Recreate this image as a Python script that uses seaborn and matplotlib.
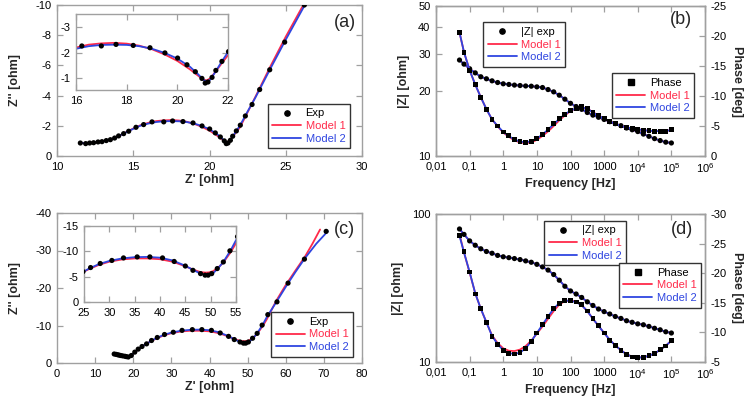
import matplotlib
matplotlib.use("Agg")
import matplotlib.pyplot as plt
import seaborn as sns
from matplotlib.lines import Line2D
from matplotlib.ticker import FixedLocator, NullLocator

sns.set_theme(style="ticks")
plt.rcParams["font.family"] = ["Liberation Sans", "DejaVu Sans"]
plt.rcParams["mathtext.default"] = "regular"
plt.rcParams["axes.unicode_minus"] = False

RED = "#ff2a4a"
BLUE = "#2f45e0"
SPINE = "#a0a0a0"

# ---------------- panel (a): Nyquist, sample 1 ----------------
za_re = [11.53, 11.88, 12.14, 12.40, 12.69, 12.95, 13.23, 13.50, 13.78, 14.04, 14.37, 14.70,
         15.18, 15.68, 16.23, 17.0, 17.58, 18.26, 18.92, 19.51, 20.01, 20.38, 20.71, 20.97,
         21.10, 21.21, 21.37, 21.52, 21.76, 22.02, 22.35, 22.79, 23.29, 23.95, 24.93, 26.22]
za_im = [-0.86, -0.82, -0.86, -0.88, -0.93, -0.95, -1.02, -1.08, -1.19, -1.33, -1.48, -1.64,
         -1.90, -2.08, -2.26, -2.26, -2.32, -2.28, -2.19, -1.99, -1.79, -1.53, -1.26, -1.0,
         -0.82, -0.86, -1.04, -1.31, -1.66, -2.04, -2.65, -3.41, -4.40, -5.71, -7.54, -10.0]
za_m1_re = [11.5, 12.0, 12.5, 13.0, 13.5, 14.0, 14.5, 15.0, 15.5, 16.0, 16.5, 17.0, 17.5, 18.0,
            18.5, 19.0, 19.5, 20.0, 20.5, 20.8, 21.0, 21.15, 21.3, 21.5, 21.75, 22.0, 22.5,
            23.0, 24.0, 25.0, 26.15]
za_m1_im = [-0.85, -0.85, -0.9, -0.97, -1.08, -1.3, -1.56, -1.82, -2.05, -2.2, -2.31, -2.36,
            -2.38, -2.35, -2.27, -2.13, -1.93, -1.68, -1.35, -1.12, -0.97, -0.92, -1.0, -1.25,
            -1.58, -1.9, -2.9, -3.9, -5.95, -7.9, -10.0]
za_m2_re = [11.5, 12.0, 12.5, 13.0, 13.5, 14.0, 14.5, 15.0, 15.5, 16.0, 16.5, 17.0, 17.5, 18.0,
            18.5, 19.0, 19.5, 20.0, 20.5, 20.8, 21.0, 21.15, 21.3, 21.5, 21.75, 22.0, 22.5,
            23.0, 24.0, 25.0, 26.25]
za_m2_im = [-0.85, -0.85, -0.9, -0.97, -1.08, -1.3, -1.55, -1.8, -2.02, -2.15, -2.25, -2.3,
            -2.31, -2.3, -2.25, -2.15, -1.99, -1.77, -1.45, -1.18, -0.98, -0.86, -0.95, -1.25,
            -1.65, -2.02, -2.95, -3.85, -5.8, -7.7, -10.0]

# ---------------- panel (c): Nyquist, sample 2 ----------------
zc_re = [15.0, 15.5, 15.9, 16.3, 16.7, 17.2, 17.8, 18.2, 18.7, 19.5, 20.4, 21.3, 22.3, 23.5,
         24.8, 26.3, 28.2, 30.5, 32.8, 35.5, 38.0, 40.5, 42.8, 45.0, 46.5, 48.0, 48.9, 49.5,
         50.2, 51.3, 52.5, 53.8, 55.3, 57.7, 60.6, 64.9, 70.6]
zc_im = [-2.4, -2.3, -2.2, -2.1, -2.0, -1.9, -1.8, -1.7, -1.6, -2.0, -2.9, -3.7, -4.4, -5.1,
         -6.0, -6.8, -7.6, -8.2, -8.7, -8.9, -8.9, -8.7, -8.0, -7.1, -6.25, -5.6, -5.3, -5.3,
         -5.6, -6.6, -7.9, -10.1, -12.9, -16.3, -21.3, -27.7, -35.1]
zc_m1_re = [19.0, 20.0, 21.0, 22.0, 23.0, 24.0, 25.0, 26.0, 28.0, 30.0, 32.5, 35.0, 37.5, 40.0,
            42.5, 45.0, 46.5, 48.0, 49.0, 49.7, 50.5, 51.5, 52.5, 54.0, 55.0, 57.5, 60.0, 62.5,
            65.0, 67.0, 69.0]
zc_m1_im = [-1.75, -2.5, -3.4, -4.2, -4.85, -5.45, -6.0, -6.5, -7.35, -7.95, -8.4, -8.6, -8.6,
            -8.45, -7.95, -7.05, -6.4, -5.9, -5.8, -5.85, -6.1, -6.8, -7.8, -9.9, -11.6, -16.6,
            -20.8, -24.6, -28.3, -31.8, -35.6]
zc_m2_re = [19.0, 20.0, 21.0, 22.0, 23.0, 24.0, 25.0, 26.0, 28.0, 30.0, 32.5, 35.0, 37.5, 40.0,
            42.5, 45.0, 46.5, 48.0, 49.0, 49.7, 50.5, 51.5, 52.5, 54.0, 55.0, 57.5, 60.0, 62.5,
            65.0, 68.0, 71.0]
zc_m2_im = [-1.75, -2.5, -3.4, -4.2, -4.85, -5.45, -6.05, -6.6, -7.5, -8.1, -8.6, -8.85, -8.9,
            -8.75, -8.2, -7.15, -6.35, -5.6, -5.3, -5.3, -5.7, -6.7, -7.9, -10.3, -12.2, -16.2,
            -20.3, -24.2, -27.9, -31.8, -35.1]

# ---------------- Bode panels (b) and (d) ----------------
freq = [0.05, 0.0681, 0.1, 0.147, 0.215, 0.316, 0.464, 0.681, 1.0, 1.47, 2.15, 3.16, 4.64,
        6.81, 10, 14.7, 21.5, 31.6, 46.4, 68.1, 100, 147, 215, 316, 464, 681, 1000, 1470,
        2150, 3160, 4640, 6810, 1e4, 14700, 21500, 31600, 46400, 68100, 1e5]

mag_b = [28.0, 26.8, 25.5, 24.4, 23.4, 22.9, 22.4, 22.0, 21.7, 21.55, 21.4, 21.3, 21.2, 21.15,
         21.0, 20.85, 20.4, 19.9, 19.2, 18.4, 17.6, 17.0, 16.5, 15.95, 15.5, 15.15, 14.8, 14.45,
         14.15, 13.85, 13.5, 13.25, 13.0, 12.65, 12.35, 12.05, 11.8, 11.6, 11.5]
ph_b = [-20.6, -17.3, -14.3, -11.9, -9.8, -7.8, -6.1, -5.0, -4.0, -3.35, -2.75, -2.4, -2.3,
        -2.4, -2.9, -3.6, -4.4, -5.35, -6.25, -6.9, -7.6, -7.9, -8.2, -7.85, -7.2, -6.7, -6.25,
        -5.75, -5.35, -5.0, -4.75, -4.6, -4.45, -4.3, -4.2, -4.1, -4.1, -4.1, -4.4]
ph_b_m1 = [-20.6, -17.3, -14.3, -11.9, -9.8, -7.8, -6.1, -4.95, -3.9, -3.2, -2.6, -2.25, -2.15,
           -2.25, -2.7, -3.35, -4.1, -5.0, -5.95, -6.75, -7.5, -7.95, -8.15, -7.9, -7.3, -6.75,
           -6.25, -5.75, -5.35, -5.0, -4.75, -4.6, -4.45, -4.3, -4.2, -4.15, -4.15, -4.2, -4.3]
ph_b_m2 = [-20.6, -17.3, -14.3, -11.9, -9.8, -7.8, -6.1, -5.0, -4.0, -3.3, -2.75, -2.4, -2.3,
           -2.45, -2.9, -3.6, -4.4, -5.3, -6.2, -6.95, -7.55, -7.95, -8.1, -7.9, -7.25, -6.7,
           -6.25, -5.75, -5.35, -5.0, -4.75, -4.6, -4.45, -4.3, -4.2, -4.15, -4.15, -4.2, -4.3]

mag_d = [79.2, 72.8, 65.8, 61.5, 58.2, 55.8, 54.3, 52.5, 51.4, 50.7, 50.0, 49.2, 48.2, 47.2,
         45.7, 43.9, 41.8, 39.0, 35.7, 32.5, 30.2, 28.8, 27.3, 25.5, 24.1, 22.8, 21.9, 21.1,
         20.3, 19.7, 19.0, 18.55, 18.1, 17.85, 17.4, 16.9, 16.5, 16.0, 15.7]
ph_d = [-26.3, -23.6, -20.2, -16.5, -14.1, -11.7, -9.3, -8.0, -7.0, -6.5, -6.35, -6.6, -7.3,
        -8.5, -9.9, -11.3, -12.7, -14.0, -14.95, -15.35, -15.35, -15.15, -14.7, -13.6, -12.3,
        -11.1, -9.9, -8.7, -7.8, -7.0, -6.2, -5.85, -5.7, -5.75, -6.05, -6.45, -7.1, -7.7, -8.6]
ph_d_m1 = [-26.6, -23.5, -20.1, -16.6, -14.0, -11.7, -9.5, -8.2, -7.3, -6.9, -6.85, -7.1, -7.7,
           -8.6, -9.8, -11.0, -12.3, -13.6, -14.7, -15.3, -15.4, -15.2, -14.6, -13.6, -12.3,
           -11.1, -9.9, -8.75, -7.8, -7.0, -6.3, -5.9, -5.75, -5.8, -6.05, -6.45, -7.05, -7.75,
           -8.6]
ph_d_m2 = [-26.3, -23.5, -20.2, -16.6, -14.0, -11.7, -9.4, -8.0, -7.0, -6.5, -6.35, -6.6, -7.3,
           -8.5, -9.9, -11.3, -12.7, -14.0, -14.95, -15.35, -15.35, -15.1, -14.6, -13.6, -12.3,
           -11.1, -9.9, -8.75, -7.8, -7.0, -6.3, -5.9, -5.75, -5.8, -6.05, -6.45, -7.05, -7.75,
           -8.6]
# fitted |Z| of both models lies on the measured points
mag_b_fit = mag_b
mag_d_fit = mag_d

freq_ticks = [0.01, 0.1, 1, 10, 100, 1000, 1e4, 1e5, 1e6]
freq_labels = ["0,01", "0,1", "1", "10", "100", "1000", "$10^4$", "$10^5$", "$10^6$"]


def rect(l, t, r, b):
    return [l / 756, 1 - b / 400, (r - l) / 756, (b - t) / 400]


def style(ax, right=True, top=True):
    for s in ax.spines.values():
        s.set_color(SPINE)
        s.set_linewidth(1.0)
    ax.tick_params(direction="in", color=SPINE, length=4, width=0.9, labelsize=8,
                   top=top, right=right, pad=4, labelcolor="black")


def lines(ax, x, y, color):
    sns.lineplot(x=x, y=y, ax=ax, color=color, lw=1.3, sort=False, estimator=None)


def dots(ax, x, y, marker="o", size=14):
    sns.scatterplot(x=x, y=y, ax=ax, color="black", marker=marker, s=size,
                    edgecolor="none", zorder=4)


def legend(ax, first, mk, loc, anchor):
    h = [Line2D([], [], ls="none", marker=mk, color="black", ms=3.8),
         Line2D([], [], color=RED, lw=1.3), Line2D([], [], color=BLUE, lw=1.3)]
    lg = ax.legend(h, [first, "Model 1", "Model 2"], loc=loc, bbox_to_anchor=anchor,
                   borderaxespad=0, fontsize=8, handlelength=2.6, fancybox=False,
                   framealpha=1, edgecolor="#333333", labelcolor=["black", RED, BLUE],
                   borderpad=0.4, labelspacing=0.25, handletextpad=0.4)
    lg.get_frame().set_linewidth(1.0)
    lg.set_zorder(10)


fig = plt.figure(figsize=(7.56, 4.0), dpi=100)

# (a)
ax = fig.add_axes(rect(57, 5, 362, 156))
lines(ax, za_m1_re, za_m1_im, RED)
lines(ax, za_m2_re, za_m2_im, BLUE)
dots(ax, za_re, za_im)
ax.set_xlim(10, 30)
ax.set_ylim(0, -10)
ax.set_xticks([10, 15, 20, 25, 30])
ax.set_yticks([0, -2, -4, -6, -8, -10])
style(ax)
ax.set_xlabel("Z' [ohm]", fontsize=9, fontweight="bold", labelpad=2)
ax.set_ylabel("Z'' [ohm]", fontsize=9, fontweight="bold", labelpad=10)
ax.text(0.944, 0.887, "(a)", transform=ax.transAxes, fontsize=13, ha="center", va="center")
legend(ax, "Exp", "o", "lower right", (0.96, 0.05))

axi = fig.add_axes(rect(76, 14, 228, 90))
lines(axi, za_m1_re, za_m1_im, RED)
lines(axi, za_m2_re, za_m2_im, BLUE)
dots(axi, za_re, za_im)
axi.set_xlim(16, 22)
axi.set_ylim(-0.55, -3.5)
axi.set_xticks([16, 18, 20, 22])
axi.set_yticks([-1, -2, -3])
style(axi)

# (c)
ax = fig.add_axes(rect(57, 213, 362, 363))
lines(ax, zc_m1_re, zc_m1_im, RED)
lines(ax, zc_m2_re, zc_m2_im, BLUE)
dots(ax, zc_re, zc_im)
ax.set_xlim(0, 80)
ax.set_ylim(0, -40)
ax.set_xticks(range(0, 81, 10))
ax.set_yticks([0, -10, -20, -30, -40])
style(ax)
ax.set_xlabel("Z' [ohm]", fontsize=9, fontweight="bold", labelpad=2)
ax.set_ylabel("Z'' [ohm]", fontsize=9, fontweight="bold", labelpad=10)
ax.text(0.942, 0.889, "(c)", transform=ax.transAxes, fontsize=13, ha="center", va="center")
legend(ax, "Exp", "o", "lower right", (0.971, 0.042))

axi = fig.add_axes(rect(84, 226, 236, 302))
lines(axi, zc_m1_re, zc_m1_im, RED)
lines(axi, zc_m2_re, zc_m2_im, BLUE)
dots(axi, zc_re, zc_im)
axi.set_xlim(25, 55)
axi.set_ylim(0, -15)
axi.set_xticks(range(25, 56, 5))
axi.set_yticks([0, -5, -10, -15])
style(axi)


def bode(box, mag, mag_fit, ph, ph1, ph2, ylim, yticks, plim, pticks, tag, tagpos, lg1, lg2):
    ax = fig.add_axes(rect(*box))
    ax2 = ax.twinx()
    ax.set_xscale("log")
    ax.set_yscale("log")
    lines(ax, freq, mag_fit, RED)
    lines(ax, freq, mag_fit, BLUE)
    dots(ax, freq, mag)
    lines(ax2, freq, ph1, RED)
    lines(ax2, freq, ph2, BLUE)
    dots(ax2, freq, ph, marker="s", size=12)
    ax.set_xlim(0.01, 1e6)
    ax.xaxis.set_major_locator(FixedLocator(freq_ticks))
    ax.set_xticklabels(freq_labels)
    ax.xaxis.set_minor_locator(NullLocator())
    ax.set_ylim(*ylim)
    ax.yaxis.set_major_locator(FixedLocator(yticks))
    ax.set_yticklabels([str(v) for v in yticks])
    ax.yaxis.set_minor_locator(NullLocator())
    ax2.set_ylim(*plim)
    ax2.set_yticks(pticks)
    style(ax, right=False)
    style(ax2, right=True, top=False)
    ax2.tick_params(left=False, labelleft=False)
    ax.set_xlabel("Frequency [Hz]", fontsize=9, fontweight="bold", labelpad=2)
    ax.set_ylabel("|Z| [ohm]", fontsize=9, fontweight="bold", labelpad=6)
    ax2.set_ylabel("Phase [deg]", fontsize=9, fontweight="bold", rotation=270, labelpad=12)
    ax2.text(tagpos[0], tagpos[1], tag, transform=ax2.transAxes, fontsize=13,
             ha="center", va="center")
    legend(ax2, "|Z| exp", "o", "upper left", lg1)
    first = ax2.get_legend()
    ax2.add_artist(first)
    legend(ax2, "Phase", "s", "upper right", lg2)


bode((436, 6, 705, 156), mag_b, mag_b_fit, ph_b, ph_b_m1, ph_b_m2, (10, 50),
     [10, 20, 30, 40, 50], (0, -25), [0, -5, -10, -15, -20, -25], "(b)", (0.911, 0.911),
     (0.176, 0.891), (0.959, 0.551))
bode((436, 214, 705, 362), mag_d, mag_d_fit, ph_d, ph_d_m1, ph_d_m2, (10, 100),
     [10, 100], (-5, -30), [-5, -10, -15, -20, -25, -30], "(d)", (0.915, 0.898),
     (0.402, 0.953), (0.985, 0.668))

fig.savefig("out.png", dpi=100)
